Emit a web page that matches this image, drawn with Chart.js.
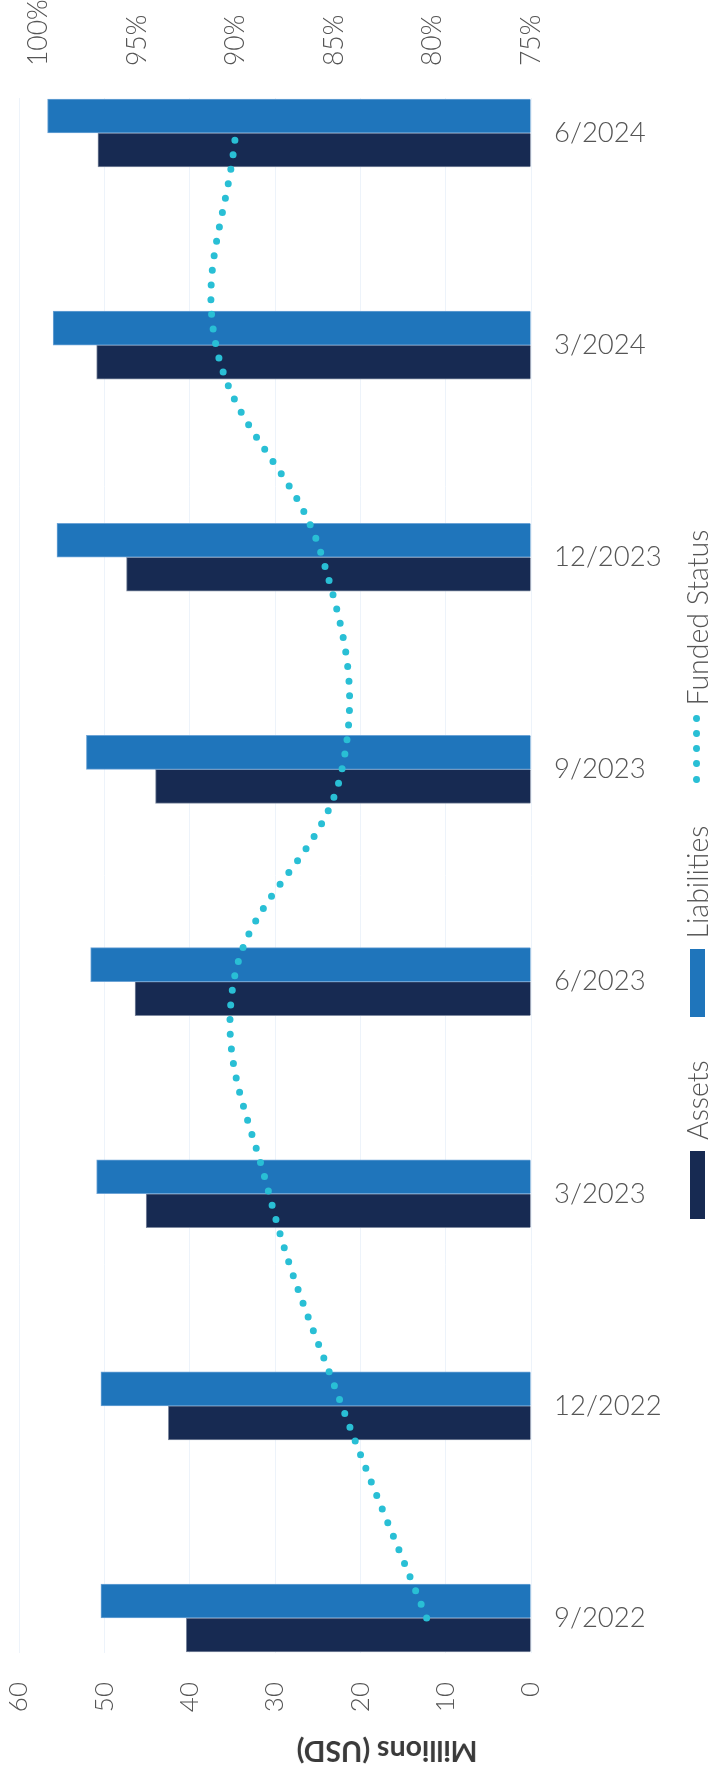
<!DOCTYPE html>
<html>
<head>
<meta charset="utf-8">
<script src="https://cdn.jsdelivr.net/npm/chart.js@4.4.1/dist/chart.umd.min.js"></script>
<style>
    body { margin: 0; background: #fff; }
    #wrap { position: relative; width: 710px; height: 1771px; }
    .legend {
        position: absolute; left: 346px; top: 852px; width: 702px; height: 32px;
        display: flex; align-items: center; transform: rotate(-90deg);
        font: 300 28.5px Lato, 'Open Sans', sans-serif; color: #555; white-space: nowrap;
    }
    .legend .item { display: flex; align-items: center; margin-right: 43px; }
    .legend .box { width: 68px; height: 15px; margin-right: 11px; }
    .legend .dots { width: 68px; height: 8px; margin-right: 9px; display: flex; justify-content: space-between; }
    .legend .dots span { width: 7px; height: 7px; border-radius: 50%; background: #29bfd5; }
    .axis-title {
        position: absolute; left: 177px; top: 1733px; width: 420px; height: 36px; line-height: 36px;
        text-align: center; transform: rotate(180deg);
        font: 700 28.5px Lato, 'Open Sans', sans-serif; color: #3a3a3a;
    }
</style>
</head>
<body>
<div id="wrap">
    <canvas id="fundedChart"></canvas>
    <div class="legend">
        <div class="item"><div class="box" style="background:#172a52"></div>Assets</div>
        <div class="item"><div class="box" style="background:#1f75bb"></div>Liabilities</div>
        <div class="item"><div class="dots"><span></span><span></span><span></span><span></span><span></span></div>Funded Status</div>
    </div>
    <div class="axis-title">Millions (USD)</div>
</div>
<script>
/* quarterly values, oldest first */
let categories = ['9/2022', '12/2022', '3/2023', '6/2023', '9/2023', '12/2023', '3/2024', '6/2024'];
let assets = [40.4, 42.5, 45.1, 46.4, 44.0, 47.4, 50.9, 50.75];
let liabilities = [50.4, 50.4, 50.9, 51.6, 52.1, 55.55, 56.0, 56.65];
let fundedStatus = [80.3, 84.6, 88.3, 90.1, 84.6, 85.6, 91.0, 90.0];
let millionTicks = [0, 60, 10];
let percentTicks = [75, 101, 5];

function points(values) {
    return values.map((v, i) => ({ x: v, y: i }));
}

// rotated tick labels should not push the plot area in
function noSidePadding(axis) {
    axis.paddingLeft = 0;
    axis.paddingRight = 0;
}

Chart.defaults.font.family = "Lato, 'Open Sans', sans-serif";
Chart.defaults.font.weight = '300';
Chart.defaults.font.size = 27;
Chart.defaults.color = '#555';

let fundedChart = {
    type: 'bar',
    data: {
        datasets: [{
            type: 'line',
            label: 'Funded Status',
            data: points(fundedStatus),
            xAxisID: 'x2',
            yAxisID: 'y',
            borderColor: '#29bfd5',
            borderWidth: 7,
            borderDash: [0, 14.7],
            borderCapStyle: 'round',
            tension: 0.4,
            pointRadius: 0,
            fill: false,
            order: 0
        }, {
            label: 'Liabilities',
            data: points(liabilities),
            xAxisID: 'x',
            yAxisID: 'y',
            backgroundColor: '#1f75bb',
            borderColor: '#6da4d6',
            borderWidth: 1,
            barThickness: 34,
            order: 1
        }, {
            label: 'Assets',
            data: points(assets),
            xAxisID: 'x',
            yAxisID: 'y',
            backgroundColor: '#172a52',
            borderColor: '#7f8aa0',
            borderWidth: 1,
            barThickness: 34,
            order: 1
        }]
    },
    options: {
        indexAxis: 'y',
        responsive: true,
        maintainAspectRatio: false,
        animation: false,
        layout: { padding: { left: 19 } },
        plugins: {
            legend: { display: false },
            tooltip: { enabled: false }
        },
        scales: {
            y: {
                type: 'linear',
                position: 'right',
                offset: false,
                min: -0.165,
                max: 7.165,
                grid: { display: false },
                border: { display: false },
                ticks: {
                    stepSize: 1,
                    includeBounds: false,
                    padding: 15,
                    font: { size: 27.5 },
                    callback: v => categories[v]
                },
                afterFit: axis => { axis.width = 179; }
            },
            x: {
                position: 'bottom',
                reverse: true,
                min: millionTicks[0],
                max: millionTicks[1],
                grid: { color: '#edf3fa', drawTicks: false },
                border: { display: false },
                ticks: {
                    stepSize: millionTicks[2],
                    minRotation: 90,
                    maxRotation: 90,
                    autoSkip: false,
                    padding: 29,
                    font: { size: 26 }
                },
                afterFit: axis => { axis.height = 118; noSidePadding(axis); }
            },
            x2: {
                position: 'top',
                reverse: true,
                min: percentTicks[0],
                max: percentTicks[1],
                grid: { display: false },
                border: { display: false },
                ticks: {
                    stepSize: percentTicks[2],
                    includeBounds: false,
                    minRotation: 90,
                    maxRotation: 90,
                    autoSkip: false,
                    padding: 24,
                    labelOffset: 32,
                    font: { size: 26.5 },
                    callback: v => v + '%'
                },
                afterFit: axis => { axis.height = 98; noSidePadding(axis); }
            }
        }
    }
};

window.onload = function() {
    new Chart(document.getElementById('fundedChart'), fundedChart);
}
</script>
</body>
</html>
